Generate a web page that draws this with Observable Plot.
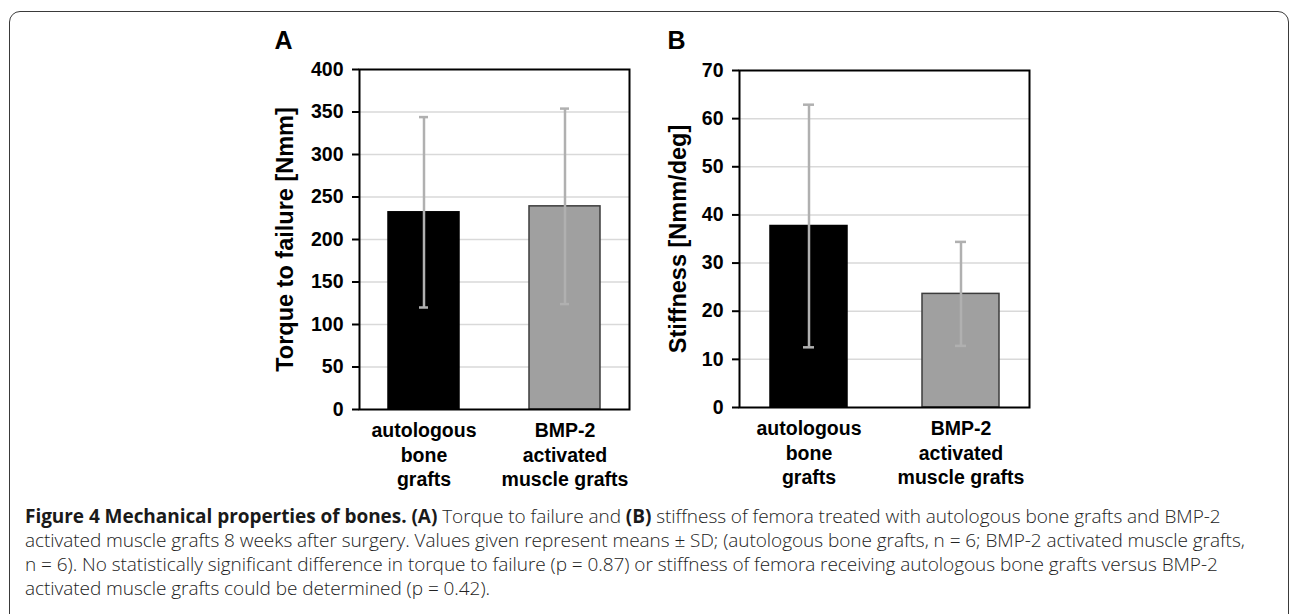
<!DOCTYPE html>
<html>
<head>
<meta charset="utf-8">
<script src="https://cdn.jsdelivr.net/npm/d3@7"></script>
<script src="https://cdn.jsdelivr.net/npm/@observablehq/plot@0.6"></script>
<style>
  html, body { margin: 0; padding: 0; background: #fff; }
  body { width: 1292px; height: 614px; overflow: hidden; position: relative; }
  #frame { position: absolute; left: 9px; top: 11px; width: 1280px; height: 700px;
           border: 1.5px solid #3a3a3a; border-radius: 11px; box-sizing: border-box; }
  #panelA { position: absolute; left: 200px; top: 0px; }
  #panelB { position: absolute; left: 580px; top: 0px; }
  #caption { position: absolute; left: 25px; top: 504px; font-family: "Open Sans", sans-serif;
             font-weight: 300; font-size: 19px; line-height: 24px; color: #222; white-space: nowrap;
             letter-spacing: -0.05px; }
  #caption b { font-weight: 700; color: #1a1a1a; }
</style>
</head>
<body>
<div id="frame"></div>
<div id="panelA"></div>
<div id="panelB"></div>
<div id="caption">
  <div><b>Figure 4 Mechanical properties of bones.</b> <b>(A)</b> Torque to failure and <b>(B)</b> stiffness of femora treated with autologous bone grafts and BMP-2</div>
  <div>activated muscle grafts 8 weeks after surgery. Values given represent means ± SD; (autologous bone grafts, n = 6; BMP-2 activated muscle grafts,</div>
  <div>n = 6). No statistically significant difference in torque to failure (p = 0.87) or stiffness of femora receiving autologous bone grafts versus BMP-2</div>
  <div>activated muscle grafts could be determined (p = 0.42).</div>
</div>
<script>
// ---- data ----
const categories = ["autologous bone grafts", "BMP-2 activated muscle grafts"];
const categoryTickLabels = ["autologous\nbone\ngrafts", "BMP-2\nactivated\nmuscle grafts"];
const torqueMean = [232, 239];
const torqueSD = [112, 115];
const stiffnessMean = [37.7, 23.6];
const stiffnessSD = [25.2, 10.8];
const torqueTicks = [0, 50, 100, 150, 200, 250, 300, 350, 400];
const stiffnessTicks = [0, 10, 20, 30, 40, 50, 60, 70];
const barFills = ["#000000", "#a0a0a0"];
const barStrokes = ["#000000", "#3c3c3c"];

const FONT = '"Liberation Sans", Arial, sans-serif';

function panel({means, sds, ticks, yLabel, letter, width, height, mLeft, mRight, mTop, mBottom, labelDx, letterDx, letterDy, capInset}) {
  const rows = categories.map((c, i) => ({cat: c, mean: means[i], sd: sds[i], fill: barFills[i], stroke: barStrokes[i]}));
  return Plot.plot({
    width, height,
    marginLeft: mLeft, marginRight: mRight, marginTop: mTop, marginBottom: mBottom,
    style: {fontFamily: FONT, fontWeight: "bold", color: "#000", background: "transparent", overflow: "visible"},
    x: {domain: categories, paddingInner: 0.495, paddingOuter: 0.2, axis: null},
    y: {domain: [ticks[0], ticks[ticks.length - 1]], axis: null},
    color: {type: "identity"},
    marks: [
      Plot.gridY(ticks.slice(1, -1), {stroke: "#d9d9d9", strokeOpacity: 1, strokeWidth: 1.5}),
      Plot.barY(rows, {x: "cat", y: "mean", fill: "fill", stroke: "stroke", strokeWidth: 1.5}),
      Plot.ruleX(rows, {x: "cat", y1: d => d.mean - d.sd, y2: d => d.mean + d.sd, stroke: "#b0b0b0", strokeWidth: 2.5}),
      Plot.tickY(rows, {x: "cat", y: d => d.mean + d.sd, stroke: "#b0b0b0", strokeWidth: 2.5, insetLeft: capInset, insetRight: capInset}),
      Plot.tickY(rows, {x: "cat", y: d => d.mean - d.sd, stroke: "#b0b0b0", strokeWidth: 2.5, insetLeft: capInset, insetRight: capInset}),
      Plot.frame({stroke: "#000", strokeWidth: 2}),
      Plot.axisY(ticks, {tickSize: 7, tickPadding: 9, strokeWidth: 2, fontSize: 19.5, fontWeight: "bold", label: null}),
      Plot.axisX(categories, {tickSize: 0, tickPadding: 10, fontSize: 19.5, fontWeight: "bold", lineHeight: 1.26,
        tickFormat: c => categoryTickLabels[categories.indexOf(c)], label: null}),
      Plot.text([yLabel], {frameAnchor: "left", dx: labelDx, rotate: -90, textAnchor: "middle", lineAnchor: "middle", fontSize: 23.5, fontWeight: "bold", fill: "#000", text: d => d}),
      Plot.text([letter], {frameAnchor: "top-left", dx: letterDx, dy: letterDy, textAnchor: "start", lineAnchor: "top", fontSize: 25, fontWeight: "bold", fill: "#000", text: d => d})
    ]
  });
}

document.getElementById("panelA").append(panel({
  means: torqueMean, sds: torqueSD, ticks: torqueTicks, yLabel: "Torque to failure [Nmm]", letter: "A",
  width: 440, height: 500, mLeft: 159, mRight: 11, mTop: 69, mBottom: 91,
  labelDx: -74, letterDx: -85, letterDy: -38, capInset: 31
}));

document.getElementById("panelB").append(panel({
  means: stiffnessMean, sds: stiffnessSD, ticks: stiffnessTicks, yLabel: "Stiffness [Nmm/deg]", letter: "B",
  width: 460, height: 500, mLeft: 159, mRight: 11, mTop: 70, mBottom: 93,
  labelDx: -61, letterDx: -72, letterDy: -39, capInset: 33
}));
</script>
</body>
</html>
